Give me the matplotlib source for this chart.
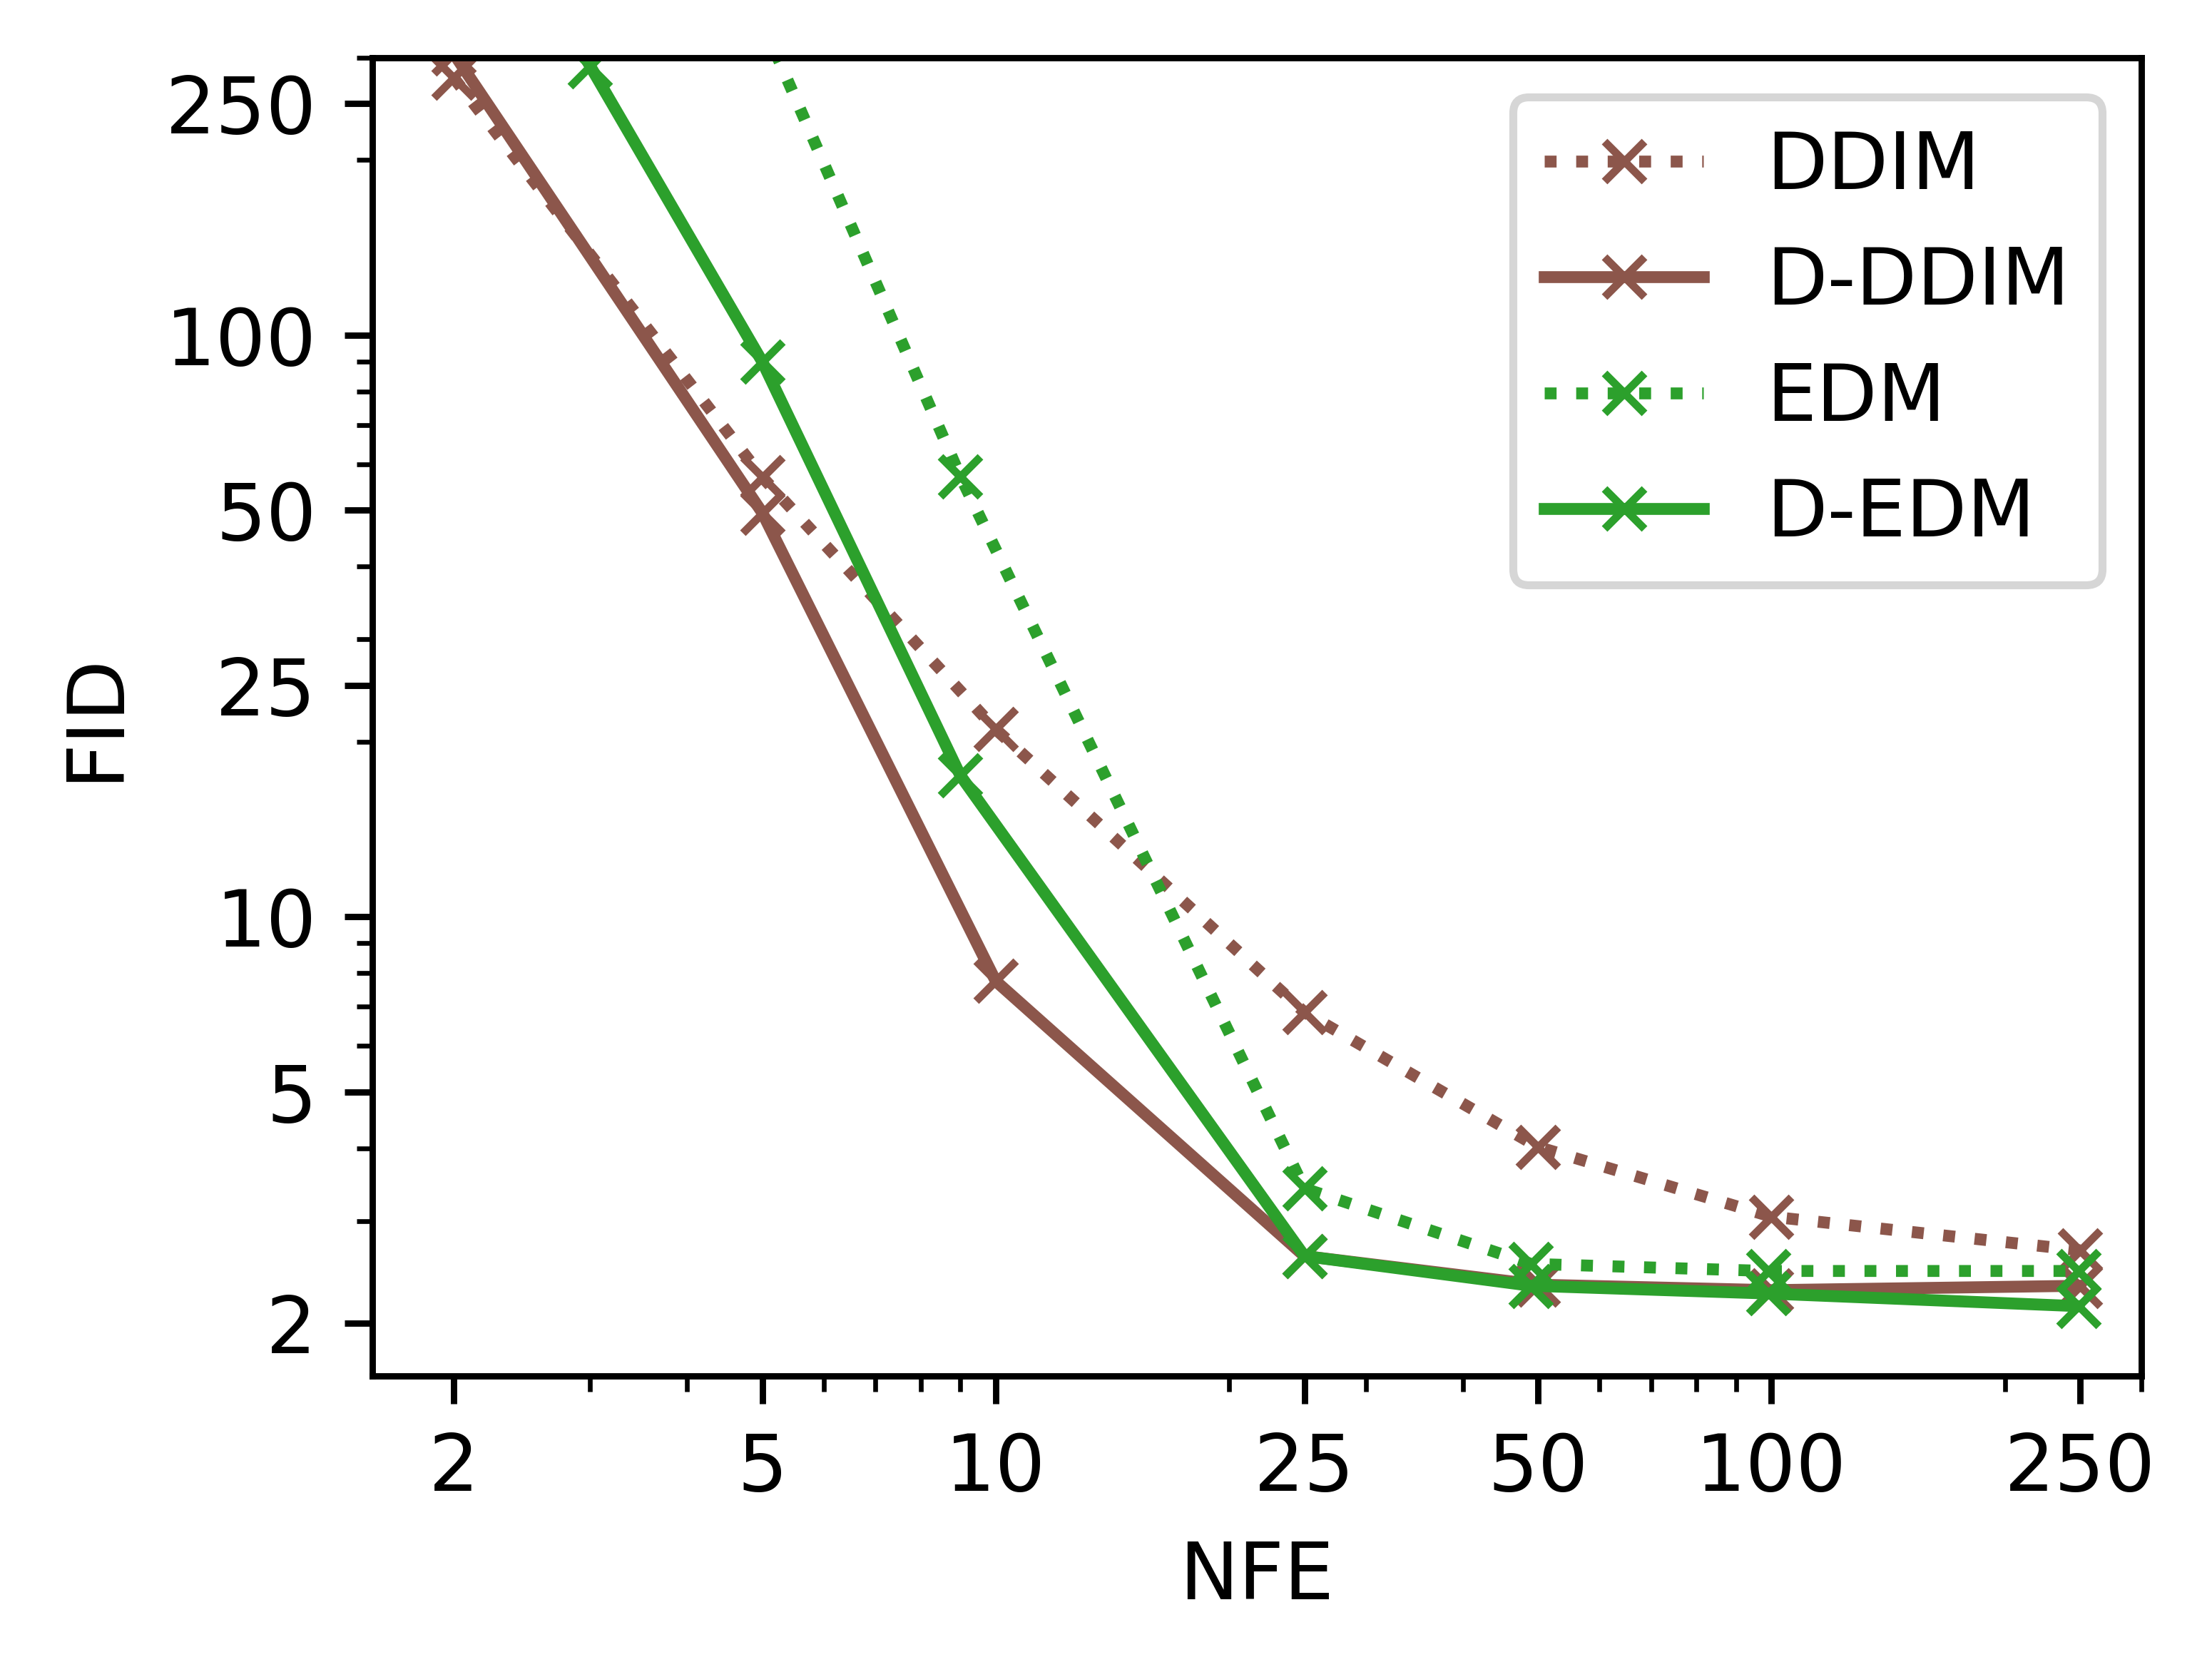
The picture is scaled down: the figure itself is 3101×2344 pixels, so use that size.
import matplotlib
matplotlib.use("Agg")
import matplotlib.pyplot as plt
from matplotlib.ticker import NullFormatter

# =========================
# DATA
# =========================

nfe_ddim = [2, 5, 10, 25, 50, 100, 250]
fid_ddim = [277, 57, 21.0, 6.85, 4.02, 3.05, 2.67]
fid_d_ddim = [305, 49.5, 7.75, 2.61, 2.33, 2.28, 2.32]

nfe_edm = [5, 9, 25, 49, 99, 249]
fid_edm = [345, 57.2, 3.41, 2.53, 2.46, 2.46]

nfe_d_edm = [3, 5, 9, 25, 49, 99, 249]
fid_d_edm = [290, 90, 17.5, 2.61, 2.32, 2.25, 2.14]

ticks = [2, 5, 10, 25, 50, 100, 250]
tick_labels = ["2", "5", "10", "25", "50", "100", "250"]

# =========================
# PLOT
# =========================

plt.rcParams["font.size"] = 10

fig = plt.figure(figsize=(3101 / 800, 2344 / 800), dpi=800)
ax = fig.add_axes([0.1682, 0.1772, 0.9681 - 0.1682, 0.9656 - 0.1772])

brown = "tab:brown"
green = "tab:green"

ax.plot(nfe_ddim, fid_ddim, linestyle=":", marker="x", color=brown, markersize=5, label="DDIM")
ax.plot(nfe_ddim, fid_d_ddim, linestyle="-", marker="x", color=brown, markersize=5, label="D-DDIM")
ax.plot(nfe_edm, fid_edm, linestyle=":", marker="x", color=green, markersize=5, label="EDM")
ax.plot(nfe_d_edm, fid_d_edm, linestyle="-", marker="x", color=green, markersize=5, label="D-EDM")

ax.set_xscale("log")
ax.set_yscale("log")
ax.set_xlim(1.57, 300)
ax.set_ylim(1.625, 300)

ax.set_xticks(ticks, tick_labels)
ax.set_yticks(ticks, tick_labels)
ax.xaxis.set_minor_formatter(NullFormatter())
ax.yaxis.set_minor_formatter(NullFormatter())

ax.set_xlabel("NFE")
ax.set_ylabel("FID")
ax.legend(loc="upper right")

fig.savefig("out.png", dpi=800)
